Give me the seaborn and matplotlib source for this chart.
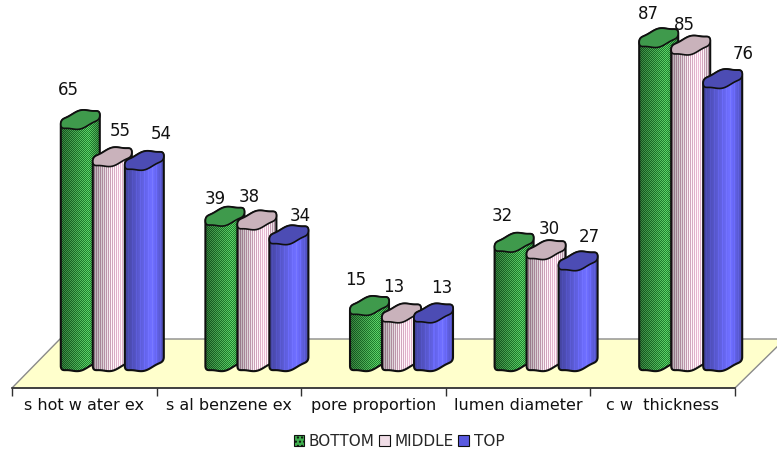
import numpy as np
import pandas as pd
import matplotlib
matplotlib.use("Agg")
import matplotlib.pyplot as plt
import seaborn as sns
from matplotlib.patches import Patch, Polygon

categories = ["s hot w ater ex", "s al benzene ex", "pore proportion", "lumen diameter", "c w  thickness"]
series = ["BOTTOM", "MIDDLE", "TOP"]
bottom = [65, 39, 15, 32, 87]
middle = [55, 38, 13, 30, 85]
top = [54, 34, 13, 27, 76]

# hand placed labels (pixels from the bar centre / lid), same order as the bars
label_dx = [-12, -10, -14, -12, -10, 8, -8, -8, 3, -6, 17, 11, 8, 11, 20]
label_dy = [28.5, 16.5, 24.5, 25.5, 22.5, 24.5, 22.5, 25.5, 19.5, 19.5, 25.5, 18.5, 24.5, 23.5, 23.5]

W, H = 777, 450
AX_LEFT, AX_RIGHT, AX_BASE = 12, 735, 388
PX_PER_UNIT = 3.72
DEPTH_X, DEPTH_Y = 28, 26.5   # bars stand part way back on the floor
BAR_W = 39

sns.set_style("white")
plt.rcParams["font.family"] = ["DejaVu Sans"]

df = pd.DataFrame({
    "category": categories * 3,
    "series": [s for s in series for _ in categories],
    "value": bottom + middle + top,
})

fig = plt.figure(figsize=(W / 100, H / 100), dpi=100)
ax = fig.add_axes([AX_LEFT / W, 1 - AX_BASE / H, (AX_RIGHT - AX_LEFT) / W, AX_BASE / H])
ax.set_zorder(2)
sns.barplot(data=df, x="category", y="value", hue="series", order=categories,
            hue_order=series, width=0.664, legend=False, ax=ax)
ax.set_xlim(-0.5, 4.5)
ax.set_ylim(0, AX_BASE / PX_PER_UNIT)


def lid_points(cx, y, t):
    # skewed ellipse, right end sits higher than the left end
    hw = BAR_W / 2
    px = cx + hw * np.cos(t)
    py = y + 4.5 * np.cos(t) + 8.5 * np.sin(t) + 0.8 * np.sin(5 * t)
    return px, py


def bar_texture(name, n, rows):
    u = np.linspace(0, 1, n)
    shade = np.interp(u, [0, 0.7, 1], [0.62, 1.05, 0.72])
    tex = np.ones((rows, n, 3))
    if name == "BOTTOM":
        light = np.outer(shade, [0.36, 0.80, 0.40])
        dark = np.outer(shade, [0.12, 0.50, 0.18])
        yy, xx = np.indices((rows, n))
        mask = (xx + yy) % 2 == 0
        tex[mask] = light[xx[mask]]
        tex[~mask] = dark[xx[~mask]]
    elif name == "MIDDLE":
        light = np.outer(np.clip(shade * 1.1, 0, 1), [1.0, 0.96, 0.98])
        dark = np.outer(shade, [0.88, 0.70, 0.80])
        for i in range(n):
            tex[:, i] = light[i] if i % 2 else dark[i]
    else:
        base = np.outer(shade, [0.42, 0.42, 0.98])
        for i in range(n):
            tex[:, i] = np.clip(base[i] * (1.08 if i % 4 == 0 else 1.0), 0, 1)
    return np.clip(tex, 0, 1)


lid_colors = {"BOTTOM": "#3f9a4c", "MIDDLE": "#c9b2bb", "TOP": "#4c4cb4"}
edge = "#101010"

# floor of the 3d box
floor = Polygon([(AX_LEFT, H - AX_BASE), (AX_RIGHT, H - AX_BASE),
                 (AX_RIGHT + 50, H - 339), (AX_LEFT + 48, H - 339)],
                closed=True, transform=None, facecolor="#ffffcc",
                edgecolor="#8a8a8a", lw=1.0)
fig.add_artist(floor)

# seaborn gives the bar geometry, each rectangle gets redrawn as a cylinder
bars = list(ax.patches)
names = [s for s in series for _ in categories]
order = sorted(range(len(bars)), key=lambda i: bars[i].get_x())
for rect in bars:
    rect.set_visible(False)

to_px = ax.transData.transform
inv = ax.transData.inverted()
t_up = np.linspace(0, np.pi, 60)
t_down = np.linspace(np.pi, 2 * np.pi, 60)


def to_data(px, py):
    return inv.transform(np.column_stack([px, py]))


for z, i in enumerate(order):
    rect = bars[i]
    name = names[i]
    centre = to_px((rect.get_x() + rect.get_width() / 2, 0))[0] + DEPTH_X
    y0 = (H - AX_BASE) + DEPTH_Y
    y1 = y0 + rect.get_height() * PX_PER_UNIT

    xa, ya = lid_points(centre, y1, t_up)
    xb, yb = lid_points(centre, y0, t_down)
    body = to_data(np.r_[xa, xb], np.r_[ya, yb])

    # one texture pixel per image pixel, otherwise the checker turns into moire
    left = int(round(centre - BAR_W / 2 - 1))
    low = int(round(y0 - 12))
    rows = int(round(y1 + 14)) - low
    tx0, ty0 = to_data([left], [low])[0]
    tx1, ty1 = to_data([left + BAR_W + 2], [low + rows])[0]
    im = ax.imshow(bar_texture(name, BAR_W + 2, rows), extent=(tx0, tx1, ty0, ty1), aspect="auto",
                   interpolation="nearest", zorder=3 + z * 0.1)
    poly = Polygon(body, closed=True, facecolor="none", edgecolor=edge, lw=1.5,
                   zorder=3 + z * 0.1 + 0.01, clip_on=False)
    ax.add_patch(poly)
    im.set_clip_box(fig.bbox)
    im.set_clip_path(poly)

    xc, yc = lid_points(centre, y1, np.linspace(0, 2 * np.pi, 120))
    lid = Polygon(to_data(xc, yc), closed=True, facecolor=lid_colors[name], edgecolor=edge,
                  lw=1.2, zorder=3 + z * 0.1 + 0.02, clip_on=False)
    ax.add_patch(lid)

# value labels go on top of everything
for i, rect in enumerate(bars):
    centre = to_px((rect.get_x() + rect.get_width() / 2, 0))[0] + DEPTH_X
    y1 = (H - AX_BASE) + DEPTH_Y + rect.get_height() * PX_PER_UNIT
    lx, ly = inv.transform((centre + label_dx[i], y1 + label_dy[i] + 1))
    ax.text(lx, ly, f"{rect.get_height():.0f}", ha="center", va="center", fontsize=12,
            color="#111111", zorder=10, clip_on=False)

ax.set_xlim(-0.5, 4.5)
ax.set_ylim(0, AX_BASE / PX_PER_UNIT)
ax.patch.set_alpha(0)
ax.set_xlabel("")
ax.set_ylabel("")
ax.set_yticks([])
sns.despine(ax=ax, left=True)
ax.spines["bottom"].set_color("#303030")
ax.spines["bottom"].set_linewidth(1.2)
ax.set_xticks(np.arange(-0.5, 5), minor=True)
ax.tick_params(axis="x", which="minor", bottom=True, length=6, width=1, color="#303030")
ax.tick_params(axis="x", which="major", bottom=False, length=0, pad=7, labelsize=11.5, labelcolor="#111111")

handles = [Patch(facecolor="#3fae4e", edgecolor=edge, hatch="....", lw=0.8),
           Patch(facecolor="#f0dde6", edgecolor=edge, lw=0.8),
           Patch(facecolor="#5a5ae0", edgecolor=edge, lw=0.8)]
fig.legend(handles, series, loc="center", bbox_to_anchor=(399 / W, 1 - 441 / H), ncol=3, frameon=False,
           fontsize=11, handlelength=0.7, handleheight=0.7, handletextpad=0.3, columnspacing=0.3)

fig.savefig("out.png", dpi=100)
